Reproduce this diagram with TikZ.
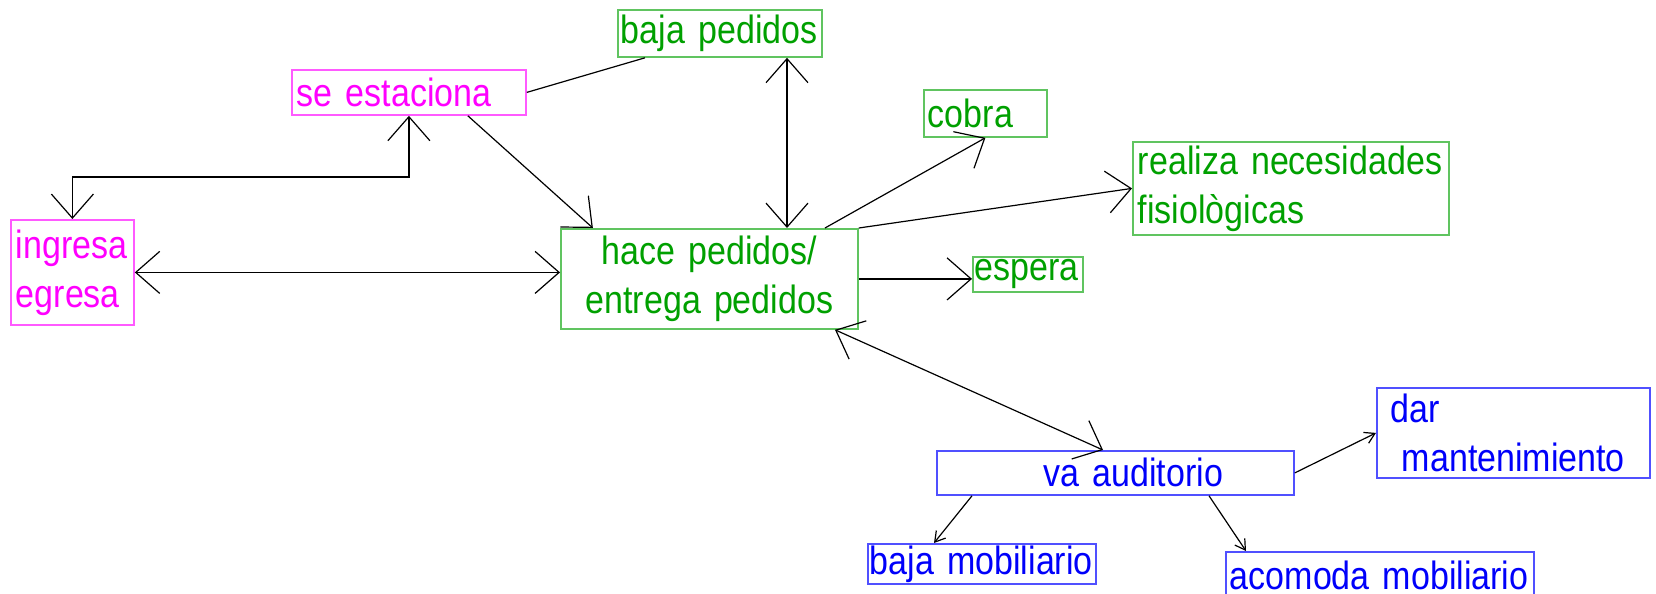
\documentclass[tikz,border=0pt]{standalone}
\usepackage{fontspec}
\setmainfont{Liberation Sans}[FakeStretch=0.863, WordSpace=0.863]
\usetikzlibrary{positioning, calc, arrows.meta}

\definecolor{pinktxt}{RGB}{255,0,255}
\definecolor{pinkline}{RGB}{255,90,255}
\definecolor{greentxt}{RGB}{0,160,0}
\definecolor{greenline}{RGB}{96,196,96}
\definecolor{bluetxt}{RGB}{0,0,250}
\definecolor{blueline}{RGB}{80,80,255}

\hyphenpenalty=10000
\exhyphenpenalty=10000

\begin{document}
\begin{tikzpicture}[
  x=0.5pt, y=-0.5pt,
  >={Straight Barb[length=12pt, width=21pt]}, line width=0.6pt,
  box/.style   = {draw, rectangle, anchor=north west, inner ysep=0pt, line width=0.9pt,
                  align=left, font=\fontsize{19.7pt}{24.5pt}\selectfont},
  pinkbox/.style  = {box, draw=pinkline, text=pinktxt},
  greenbox/.style = {box, draw=greenline, text=greentxt},
  bluebox/.style  = {box, draw=blueline, text=bluetxt},
  minor/.style = {-{Straight Barb[length=5pt, width=6pt]}},
]
  \useasboundingbox (0,0) rectangle (1656,594);
  \clip (0,0) rectangle (1656,594);

  % left side
  \node[pinkbox, inner xsep=2.5pt, text width=56.5pt, minimum height=52.5pt] (ingresa) at (10,219)  {ingresa\\egresa};
  \node[pinkbox, inner xsep=2.5pt, text width=112pt,  minimum height=22.5pt] (seest)   at (291,69)  {se estaciona};

  % centre and upper right
  \node[greenbox, inner xsep=3pt,   text width=142.5pt, minimum height=50pt, align=center] (hace) at (560,228) {hace pedidos/\\entrega pedidos};
  \node[greenbox, inner xsep=1.5pt, text width=99pt,    minimum height=23.5pt] (bajaped) at (617,9)   {baja pedidos};
  \node[greenbox, inner xsep=2pt,   text width=57.5pt,  minimum height=23.5pt] (cobra)   at (923,89)  {cobra};
  \node[greenbox, inner xsep=2.5pt, text width=153pt,   minimum height=46.5pt] (realiza) at (1132,141) {realiza necesidades\\fisiològicas};
  \node[greenbox, inner xsep=1pt,   text width=53pt,    minimum height=17.5pt] (espera)  at (972,256) {espera};

  % lower right
  \node[bluebox, inner xsep=3pt, text width=172.5pt, minimum height=22pt, align=center] (va) at (936,450) {\hspace*{18pt}va auditorio};
  \node[bluebox, inner xsep=7pt, text width=122.5pt, minimum height=45pt] (dar)     at (1376,387) {dar\\\hspace*{5.5pt}mantenimiento};
  \node[bluebox, inner xsep=1pt, text width=112pt,   minimum height=20pt] (bajamob) at (867,543)  {baja mobiliario};
  \node[bluebox, inner xsep=2pt, text width=150pt,   minimum height=24pt] (acomoda) at (1225,551) {acomoda mobiliario};

  % connectors
  \draw[<->] (ingresa.north) -- ++(0,-42) -| (seest.south);
  \draw[->]  ($(seest.south west)!0.75!(seest.south east)$) -- ($(hace.north west)!0.11!(hace.north east)$);
  \draw      (seest.east) -- ([xshift=14pt]bajaped.south west);
  \draw[<->] ([xshift=85pt]bajaped.south west) -- ([xshift=85pt]bajaped.south west |- hace.north);
  \draw[<->] (ingresa.east) -- (ingresa.east -| hace.west);
  \draw[->]  ([xshift=132.5pt]hace.north west) -- (cobra.south);
  \draw[->]  (hace.north east) -- (realiza.west);
  \draw[->]  (hace.east) -- (hace.east -| espera.west);
  \draw[<->] ([xshift=137.5pt]hace.south west) -- ([xshift=83.5pt]va.north west);

  \draw[minor] (va.east) -- (dar.west);
  \draw[minor] ([xshift=18pt]va.south west) -- ([xshift=33.5pt]bajamob.north west);
  \draw[minor] ([xshift=136.5pt]va.south west) -- ([xshift=10.5pt]acomoda.north west);
\end{tikzpicture}
\end{document}
